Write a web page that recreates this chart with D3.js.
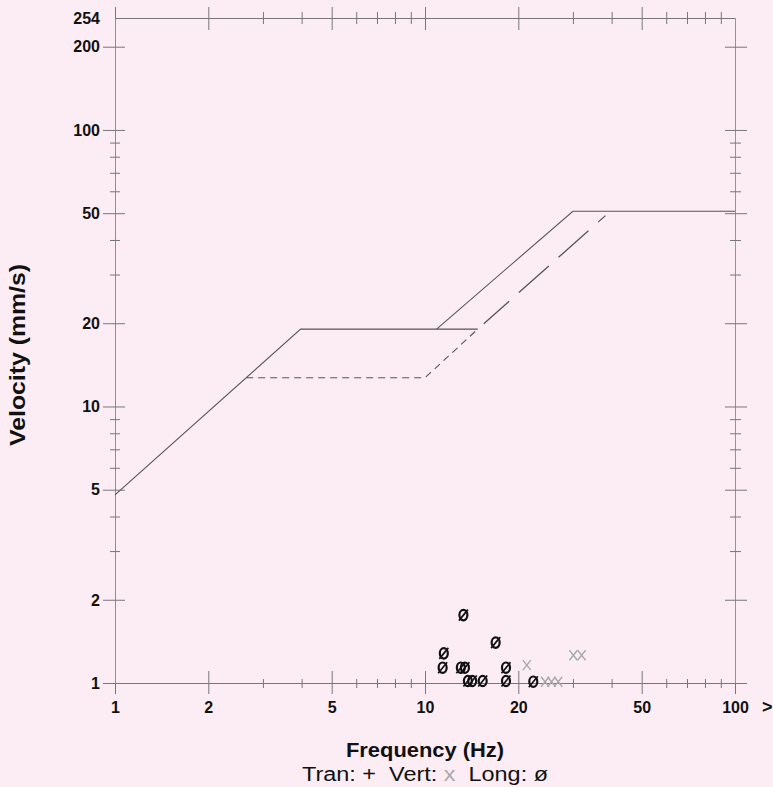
<!DOCTYPE html>
<html>
<head>
<meta charset="utf-8">
<script src="https://cdn.jsdelivr.net/npm/d3@7"></script>
<style>
  body { margin: 0; background: #fcedf5; }
  svg { display: block; }
  text { font-family: "Liberation Sans", Arial, sans-serif; }
</style>
</head>
<body>
<svg id="chart" width="773" height="787"></svg>
<script>
// tick labels
const xTickVals = [1, 2, 5, 10, 20, 50, 100]
const yTickVals = [1, 2, 5, 10, 20, 50, 100, 200, 254]
const yMajorVals = [1, 2, 5, 10, 20, 50, 100, 200]

// criteria lines (Hz, mm/s)
const solidFreq = [1, 3.97, 14.8]
const solidVel = [4.79, 19.05, 19.05]
const solidHiFreq = [10.9, 30, 100]
const solidHiVel = [19.05, 50.8, 50.8]
const plasterFreq = [2.65, 10, 14.8]
const plasterVel = [12.7, 12.7, 19.05]
const plasterHiFreq = [14.8, 38.2]
const plasterHiVel = [19.05, 49]

// events
const longFreq = [13.3, 16.9, 11.5, 11.4, 13.05, 13.45, 18.25, 13.75, 14.2, 15.35, 18.25, 22.35]
const longVel = [1.76, 1.40, 1.28, 1.136, 1.136, 1.136, 1.136, 1.017, 1.017, 1.017, 1.017, 1.011]
const vertFreq = [21.3, 24.4, 25.6, 26.9, 30.1, 32.0]
const vertVel = [1.16, 1.01, 1.01, 1.01, 1.26, 1.26]

const svg = d3.select("#chart")
let margin = { top: 18, bottom: 104, left: 115, right: 38 }
const width = 773, height = 787

let xScale = d3.scaleLog().domain([1, 100]).range([margin.left, width - margin.right])
let yScale = d3.scaleLog().domain([1, 254]).range([height - margin.bottom, margin.top])

const axisCol = "#777"
const x0 = xScale(1), x1 = xScale(100), y0 = yScale(1), y1 = yScale(254)

// bottom axis
let axisX = d3.axisBottom(xScale).tickValues(xScale.ticks()).tickFormat("").tickSizeOuter(0)
let gx = svg.append("g").attr("transform", `translate(0,${y0})`).call(axisX)
gx.select(".domain").attr("stroke", axisCol)
gx.selectAll(".tick line").attr("stroke", axisCol)
  .attr("y1", d => xTickVals.includes(d) ? -12 : -4)
  .attr("y2", d => xTickVals.includes(d) ? 11 : 5)
gx.selectAll(".tick").filter(d => xTickVals.includes(d)).append("text")
  .attr("y", 30).attr("fill", "#111").attr("text-anchor", "middle")
  .style("font-size", "16px").style("font-weight", "bold").text(d => d)

// top axis
let axisTop = d3.axisTop(xScale).tickValues(xScale.ticks().filter(d => d < 100)).tickFormat("").tickSizeOuter(0)
let gt = svg.append("g").attr("transform", `translate(0,${y1})`).call(axisTop)
gt.select(".domain").attr("stroke", axisCol)
gt.selectAll(".tick line").attr("stroke", axisCol)
  .attr("y1", d => xTickVals.includes(d) ? -11 : -6)
  .attr("y2", d => xTickVals.includes(d) ? 12 : 6)

// left axis
let axisY = d3.axisLeft(yScale).tickValues(yScale.ticks()).tickFormat("").tickSizeOuter(0)
let gy = svg.append("g").attr("transform", `translate(${x0},0)`).call(axisY)
gy.select(".domain").attr("stroke", "#7d93a6")
gy.selectAll(".tick line").attr("stroke", axisCol)
  .attr("x1", d => yMajorVals.includes(d) ? -12 : -5)
  .attr("x2", d => yMajorVals.includes(d) ? 10 : 5)
svg.append("g").selectAll("text").data(yTickVals).enter().append("text")
  .attr("x", x0 - 15).attr("y", d => yScale(d)).attr("dy", "0.36em")
  .attr("text-anchor", "end").attr("fill", "#111")
  .style("font-size", "16px").style("font-weight", "bold").text(d => d)

// right axis
let axisR = d3.axisRight(yScale).tickValues(yScale.ticks()).tickFormat("").tickSizeOuter(0)
let gr = svg.append("g").attr("transform", `translate(${x1},0)`).call(axisR)
gr.select(".domain").attr("stroke", "#8a96a8")
gr.selectAll(".tick line").attr("stroke", axisCol)
  .attr("x1", d => yMajorVals.includes(d) ? -10 : -5)
  .attr("x2", d => yMajorVals.includes(d) ? 12 : 6)

// criteria lines
let line = d3.line().x(d => xScale(d[0])).y(d => yScale(d[1]))
svg.append("path").datum(d3.zip(solidFreq, solidVel))
  .attr("d", line).attr("fill", "none").attr("stroke", "#555").attr("stroke-width", 1.1)
svg.append("path").datum(d3.zip(solidHiFreq, solidHiVel))
  .attr("d", line).attr("fill", "none").attr("stroke", "#555").attr("stroke-width", 1.1)
svg.append("path").datum(d3.zip(plasterFreq, plasterVel))
  .attr("d", line).attr("fill", "none").attr("stroke", "#555").attr("stroke-width", 1.1)
  .attr("stroke-dasharray", "7,5")
svg.append("path").datum(d3.zip(plasterHiFreq, plasterHiVel))
  .attr("d", line).attr("fill", "none").attr("stroke", "#555").attr("stroke-width", 1.3)
  .attr("stroke-dasharray", "0,8,34,13,40,13,40,13,60")

// vert events (gray x)
let vg = svg.append("g").selectAll("g").data(d3.zip(vertFreq, vertVel)).enter().append("g")
  .attr("transform", d => `translate(${xScale(d[0])},${yScale(d[1])})`)
vg.append("path").attr("d", "M-4,-5L4,5M-4,5L4,-5").attr("stroke", "#a8a8a8").attr("stroke-width", 1.4)

// long events (slashed ellipse)
let lg = svg.append("g").selectAll("g").data(d3.zip(longFreq, longVel)).enter().append("g")
  .attr("transform", d => `translate(${xScale(d[0])},${yScale(d[1])})`)
lg.append("ellipse").attr("rx", 4).attr("ry", 5.2).attr("fill", "none").attr("stroke", "#111").attr("stroke-width", 2.2)
lg.append("path").attr("d", "M-4.5,5.5L4.5,-5.5").attr("stroke", "#111").attr("stroke-width", 1.7)

// titles
svg.append("text").attr("x", 425).attr("y", 757).attr("text-anchor", "middle")
  .attr("textLength", 158).attr("lengthAdjust", "spacingAndGlyphs")
  .style("font-size", "21px").style("font-weight", "bold").attr("fill", "#111").text("Frequency (Hz)")
let leg = svg.append("text").attr("x", 425).attr("y", 781).attr("text-anchor", "middle")
  .attr("textLength", 246).attr("lengthAdjust", "spacingAndGlyphs")
  .style("font-size", "20px").attr("fill", "#111").attr("xml:space", "preserve")
leg.append("tspan").text("Tran: +  Vert: ")
leg.append("tspan").attr("fill", "#aaa").text("x")
leg.append("tspan").text("  Long: ø")
svg.append("text").attr("transform", "translate(25,355) rotate(-90)").attr("text-anchor", "middle")
  .attr("textLength", 182).attr("lengthAdjust", "spacingAndGlyphs")
  .style("font-size", "22px").style("font-weight", "bold").attr("fill", "#111").text("Velocity (mm/s)")
svg.append("text").attr("x", 762).attr("y", 713).style("font-size", "18px").style("font-weight", "bold")
  .attr("fill", "#111").text(">")
</script>
</body>
</html>
